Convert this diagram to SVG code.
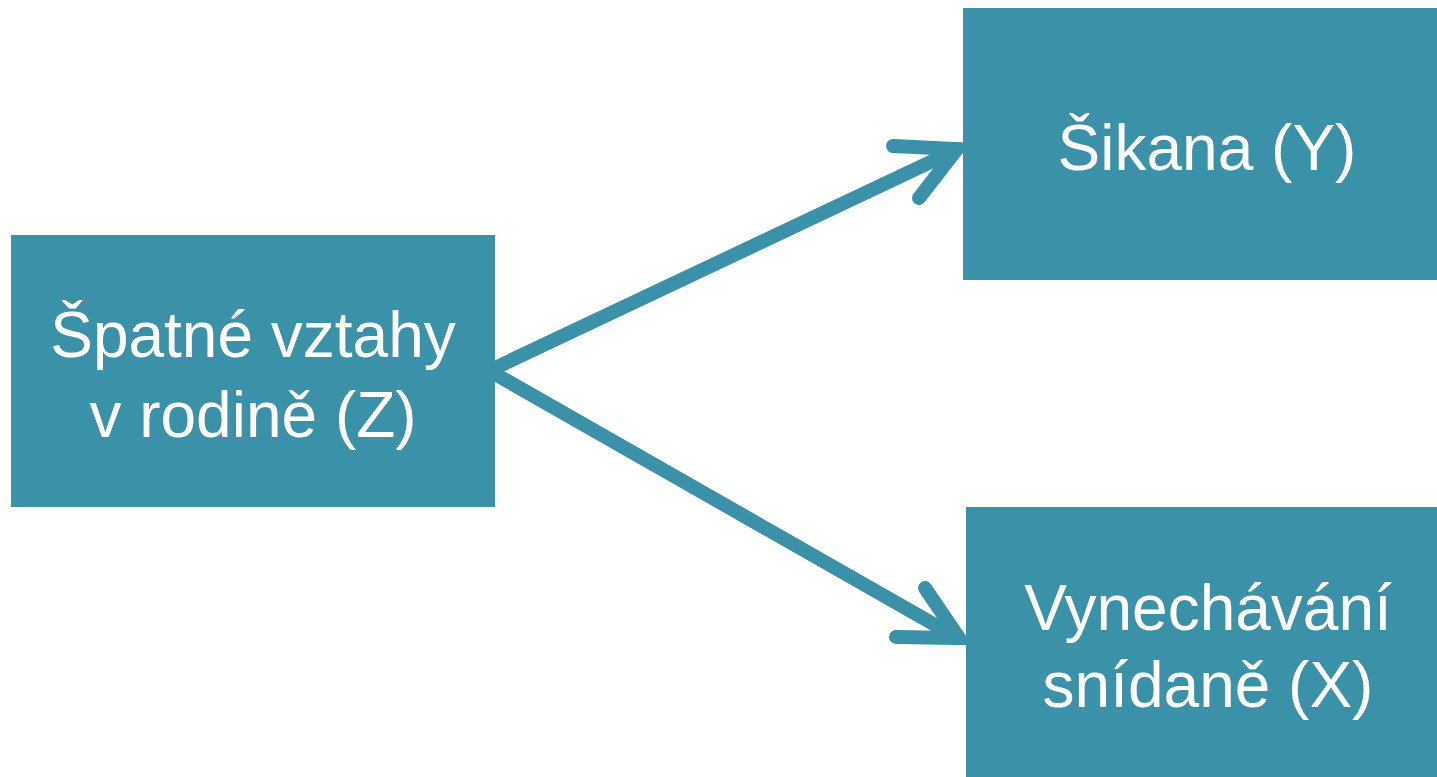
<svg xmlns="http://www.w3.org/2000/svg" width="1437" height="777" viewBox="0 0 1437 777">
  <style>
    .box { fill: #3A91A8; }
    .label { fill: #FFFFFF; font-family: "Liberation Sans", Arial, sans-serif; font-size: 64px; text-anchor: middle; }
    .edge { fill: none; stroke: #3A91A8; stroke-width: 14; stroke-linecap: round; stroke-linejoin: miter; stroke-miterlimit: 10; }
  </style>
  <rect width="1437" height="777" fill="#FFFFFF"/>
  <g id="connectors">
    <path class="edge" d="M495 368 L956 150"/>
    <path class="edge" d="M893 146 L957 149 L919 198"/>
    <path class="edge" d="M495 374 L958 638"/>
    <path class="edge" d="M925 588 L959 638 L896 637"/>
  </g>
  <g id="node-z">
    <rect class="box" x="11" y="235" width="484" height="272"/>
    <text class="label" x="253" y="357">Špatné vztahy</text>
    <text class="label" x="253" y="437">v rodině (Z)</text>
  </g>
  <g id="node-y">
    <rect class="box" x="963" y="8" width="474" height="272"/>
    <text class="label" x="1207" y="170">Šikana (Y)</text>
  </g>
  <g id="node-x">
    <rect class="box" x="966" y="507" width="471" height="270"/>
    <text class="label" x="1208" y="630">Vynechávání</text>
    <text class="label" x="1208" y="707">snídaně (X)</text>
  </g>
</svg>
